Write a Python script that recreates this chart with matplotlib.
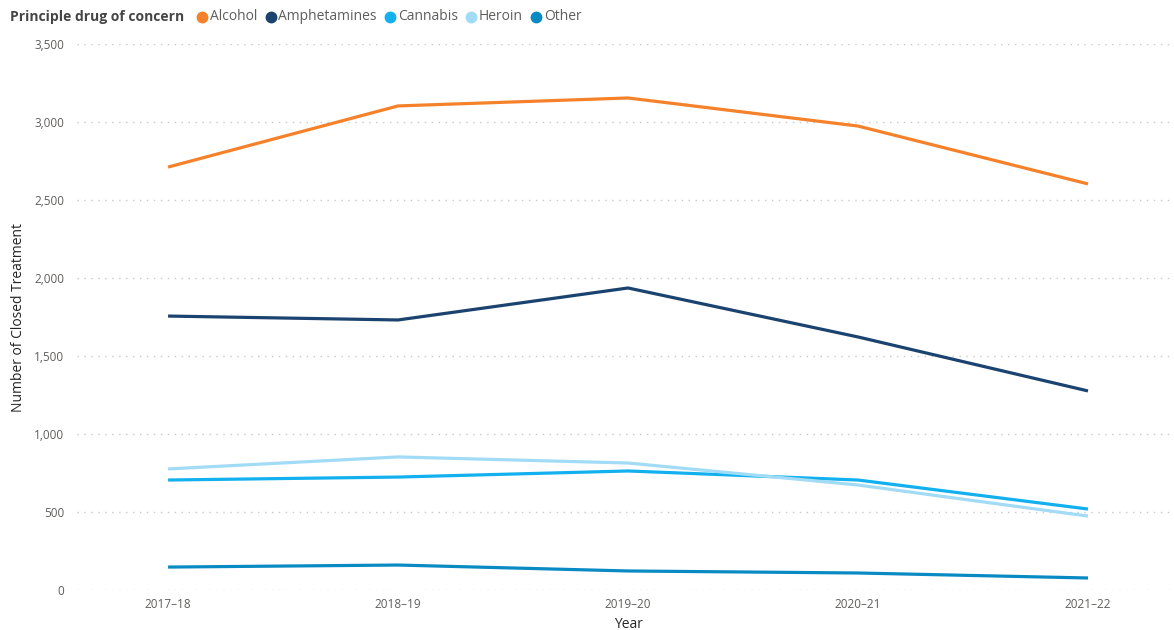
import matplotlib
matplotlib.use("Agg")
import matplotlib.pyplot as plt
from matplotlib.lines import Line2D

years = ["2017–18", "2018–19", "2019–20", "2020–21", "2021–22"]
alcohol = [2711, 3103, 3154, 2974, 2603]
amphetamines = [1756, 1731, 1936, 1622, 1276]
cannabis = [705, 724, 763, 705, 519]
heroin = [776, 853, 814, 673, 474]
other = [147, 160, 122, 109, 77]

series_names = ["Alcohol", "Amphetamines", "Cannabis", "Heroin", "Other"]
series_vals = [alcohol, amphetamines, cannabis, heroin, other]
colors = ["#F5822A", "#1B4370", "#12B0EE", "#A2DBF5", "#0A8AC2"]
yticks = [0, 500, 1000, 1500, 2000, 2500, 3000, 3500]

plt.rcParams['font.family'] = ['Open Sans', 'DejaVu Sans']

W, H = 1174, 630
fig = plt.figure(figsize=(W / 100, H / 100), dpi=100)
ax = fig.add_axes([77 / W, (H - 590) / H, 1 - 77 / W, (590 - 44) / H])

x = list(range(len(years)))
for name, vals, c in zip(series_names, series_vals, colors):
    ax.plot(x, vals, color=c, lw=2.3, solid_capstyle='butt', solid_joinstyle='miter', zorder=3)

ax.set_xlim(-0.396, 4.374)
ax.set_ylim(0, 3500)
ax.set_yticks(yticks)
ax.set_yticklabels([f"{v:,}" for v in yticks])
ax.set_xticks(x)
ax.set_xticklabels(years)
ax.grid(axis='y', color='#C8C8C8', linestyle=(0, (1, 4)), lw=1.0, zorder=0)
for s in ax.spines.values():
    s.set_visible(False)
ax.tick_params(axis='both', length=0, colors='#605E5C', labelsize=8.5)
ax.tick_params(axis='y', pad=9)
ax.tick_params(axis='x', pad=6)
ax.set_xlabel("Year", color='#252423', fontsize=10)
ax.xaxis.set_label_coords((629 - 77) / (W - 77), -(624 - 590) / (590 - 44))
ax.xaxis.label.set_va('center')
ax.set_ylabel("Number of Closed Treatment", color='#252423', fontsize=10)
ax.yaxis.set_label_coords(-(77 - 19) / (W - 77), (590 - 317) / (590 - 44))
ax.yaxis.label.set_va('center')

# Legend drawn manually inline
fig.canvas.draw()
renderer = fig.canvas.get_renderer()
ly = 1 - 17 / H
t = fig.text(10 / W, ly, "Principle drug of concern", fontsize=10, fontweight='bold',
             color='#454545', va='center', ha='left')
bb = t.get_window_extent(renderer)
cx = bb.x1 + 18
for name, c in zip(series_names, colors):
    fig.add_artist(Line2D([cx / W], [ly], marker='o', markersize=7.5, color=c,
                          linestyle='none', transform=fig.transFigure))
    tt = fig.text((cx + 8) / W, ly, name, fontsize=10, color='#605E5C', va='center', ha='left')
    b2 = tt.get_window_extent(renderer)
    cx = b2.x1 + 13

fig.savefig("out.png", dpi=100)
